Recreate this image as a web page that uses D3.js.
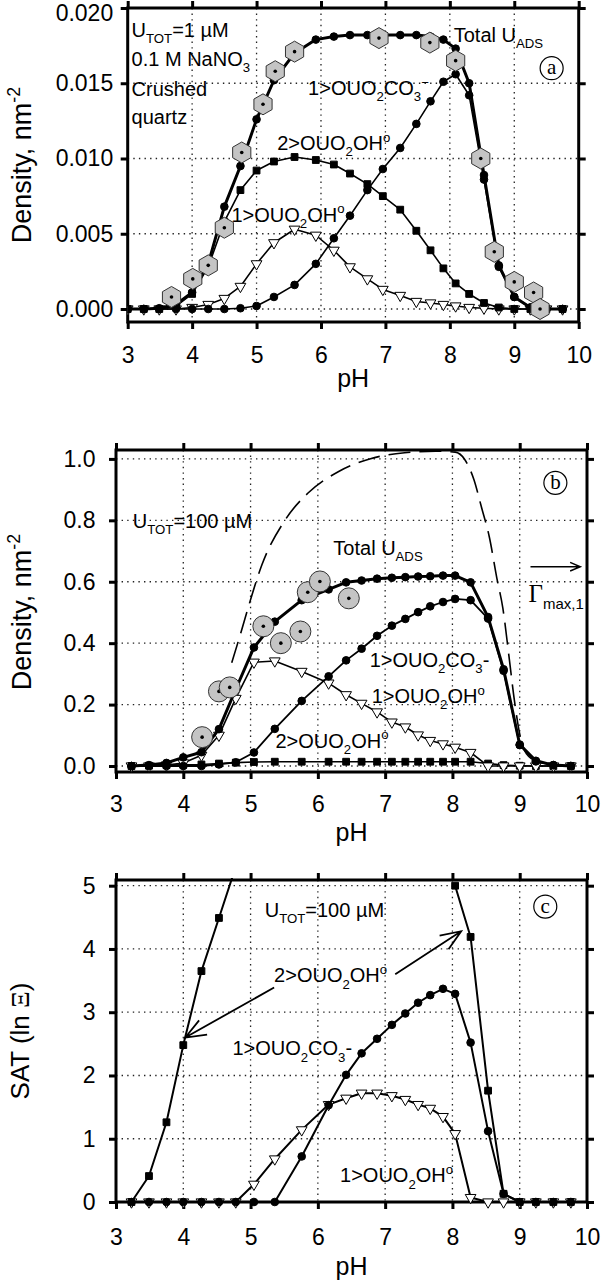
<!DOCTYPE html>
<html>
<head>
<meta charset="utf-8">
<script src="https://cdn.jsdelivr.net/npm/d3@7"></script>
<style>
  body { margin: 0; background: #fff; }
  svg { display: block; font-family: "Liberation Sans", Arial, sans-serif; }
</style>
</head>
<body>
<svg id="chart" width="603" height="1282"></svg>
<script>
// --- ticks
const xTicks = [3, 4, 5, 6, 7, 8, 9, 10];
const yTicksA = [0, 0.005, 0.01, 0.015, 0.02];
const yTicksB = [0, 0.2, 0.4, 0.6, 0.8, 1.0];
const yTicksC = [0, 1, 2, 3, 4, 5];

// --- panel a : U_TOT = 1 uM, density nm^-2
const pHA = [3.0, 3.25, 3.49, 3.75, 4.0, 4.25, 4.5, 4.75, 5.0, 5.27, 5.59, 5.92, 6.2, 6.45, 6.72, 6.96, 7.23, 7.48, 7.7, 7.9, 8.09, 8.3, 8.53, 8.76, 9.0, 9.25, 9.5, 9.75];
const totalA = [0, 0, 0.00005, 0.0003, 0.0011, 0.003, 0.0068, 0.0095, 0.0126, 0.0152, 0.017, 0.0179, 0.0181, 0.0182, 0.0182, 0.0182, 0.0182, 0.0182, 0.0181, 0.0179, 0.0173, 0.015, 0.0089, 0.0029, 0.0008, 0.0001, 0, 0];
const bidentateA = [0, 0, 0, 0.0002, 0.001, 0.0028, 0.0058, 0.0079, 0.0092, 0.0098, 0.0101, 0.0099, 0.0096, 0.009, 0.0083, 0.0075, 0.0066, 0.0052, 0.0039, 0.0027, 0.0017, 0.001, 0.0004, 0.0001, 0, 0, 0, 0];
const monoOHA = [0, 0, 0, 0, 0.0001, 0.0003, 0.0007, 0.0015, 0.003, 0.0044, 0.0053, 0.0049, 0.0039, 0.0028, 0.002, 0.0013, 0.0009, 0.0005, 0.0004, 0.0003, 0.0002, 0.0001, 0.00005, 0, 0, 0, 0, 0];
const carbonateA = [0, 0, 0, 0, 0, 0, 0, 0.00005, 0.0002, 0.0008, 0.0016, 0.003, 0.0047, 0.0062, 0.0079, 0.0093, 0.0107, 0.0123, 0.0138, 0.0151, 0.0156, 0.0142, 0.0086, 0.0028, 0.0008, 0.0001, 0, 0];
const expPhA = [3.68, 4.01, 4.25, 4.5, 4.77, 5.1, 5.29, 5.59, 6.9, 7.69, 8.09, 8.48, 8.69, 9.0, 9.3, 9.4];
const expDensA = [0.0008, 0.002, 0.0029, 0.0054, 0.0104, 0.0136, 0.0158, 0.0171, 0.018, 0.0177, 0.0165, 0.01, 0.0038, 0.0018, 0.0011, 0];

// --- panels b and c : U_TOT = 100 uM (same model pH points)
const pHBC = [3.23, 3.49, 3.75, 4.0, 4.27, 4.53, 4.78, 5.05, 5.36, 5.76, 6.16, 6.42, 6.65, 6.88, 7.1, 7.3, 7.49, 7.67, 7.86, 8.04, 8.27, 8.53, 8.76, 9.0, 9.24, 9.5, 9.76];
const totalB = [0, 0.003, 0.01, 0.028, 0.045, 0.12, 0.25, 0.386, 0.47, 0.54, 0.575, 0.598, 0.604, 0.61, 0.613, 0.615, 0.617, 0.618, 0.62, 0.62, 0.598, 0.485, 0.315, 0.07, 0.017, 0.003, 0];
const monoOHB = [0, 0, 0.003, 0.01, 0.035, 0.1, 0.22, 0.338, 0.342, 0.308, 0.27, 0.232, 0.204, 0.176, 0.143, 0.127, 0.101, 0.083, 0.072, 0.061, 0.044, 0, 0, 0, 0, 0, 0];
const carbonateB = [0, 0, 0, 0, 0, 0.005, 0.012, 0.044, 0.121, 0.212, 0.292, 0.344, 0.382, 0.424, 0.457, 0.479, 0.501, 0.52, 0.534, 0.544, 0.54, 0.48, 0.31, 0.068, 0.015, 0.003, 0];
const bidentateB = [0, 0.001, 0.003, 0.004, 0.005, 0.008, 0.011, 0.013, 0.014, 0.014, 0.014, 0.014, 0.014, 0.014, 0.014, 0.014, 0.014, 0.014, 0.014, 0.014, 0.014, 0.008, 0.003, 0.001, 0, 0, 0];
const expPhB = [4.28, 4.53, 4.69, 5.19, 5.45, 5.74, 5.85, 6.03, 6.46];
const expDensB = [0.094, 0.243, 0.256, 0.455, 0.4, 0.438, 0.566, 0.601, 0.546];
const gammaPhB = [4.72, 4.85, 4.97, 5.17, 5.51, 5.85, 6.31, 6.77, 7.29, 7.75, 8.04, 8.18, 8.32, 8.43, 8.55, 8.66, 8.75, 8.84, 8.92, 9.01, 9.1, 9.3];
const gammaB = [0.336, 0.43, 0.52, 0.656, 0.8, 0.888, 0.959, 1.0, 1.02, 1.025, 1.022, 0.999, 0.932, 0.844, 0.744, 0.612, 0.513, 0.358, 0.215, 0.094, 0.04, 0.011];

// SAT (ln Xi); null = off scale (above the frame)
const satBidentateC = [0, 0.41, 1.26, 2.48, 3.65, 4.49, 5.3, null, null, null, null, null, null, null, null, null, null, null, null, 5.0, 4.19, 1.76, 0.13, 0, 0, 0, 0];
const satCarbonateC = [0, 0, 0, 0, 0, 0, 0, 0, 0, 0.72, 1.53, 2.01, 2.35, 2.58, 2.8, 2.98, 3.15, 3.27, 3.37, 3.29, 2.52, 1.12, 0.13, 0, 0, 0, 0];
const satMonoOHC = [0, 0, 0, 0, 0, 0, 0, 0.28, 0.68, 1.14, 1.54, 1.64, 1.72, 1.72, 1.68, 1.62, 1.54, 1.48, 1.35, 1.08, 0.07, 0, 0, 0, 0, 0, 0];

const svg = d3.select("#chart");
const grey = "#c4c4c4";

// text with sub / superscripts: parts = [[text, "" | "sub" | "sup"], ...]
function richText(g, x, y, parts, size) {
  const t = g.append("text").attr("x", x).attr("y", y).style("font-size", size + "px");
  let shift = 0;
  parts.forEach(([s, mode]) => {
    const target = mode === "sub" ? 0.32 * size : mode === "sup" ? -0.42 * size : 0;
    t.append("tspan")
      .attr("dy", target - shift)
      .style("font-size", mode ? size * 0.66 + "px" : null)
      .text(s);
    shift = target;
  });
  return t;
}

function arrow(g, x1, y1, x2, y2, len, ang, w) {
  const a = Math.atan2(y2 - y1, x2 - x1);
  const p1 = [x2 - len * Math.cos(a - ang), y2 - len * Math.sin(a - ang)];
  const p2 = [x2 - len * Math.cos(a + ang), y2 - len * Math.sin(a + ang)];
  g.append("path")
    .attr("d", `M${x1},${y1}L${x2},${y2}M${p1}L${x2},${y2}L${p2}`)
    .attr("fill", "none")
    .attr("stroke", "#000")
    .attr("stroke-width", w);
}

function circledLetter(g, cx, cy, letter) {
  g.append("circle").attr("cx", cx).attr("cy", cy).attr("r", 11.5)
    .attr("fill", "#fff").attr("stroke", "#000").attr("stroke-width", 1.2);
  g.append("text").attr("x", cx).attr("y", cy + 6)
    .attr("text-anchor", "middle")
    .style("font-family", "'Liberation Serif', 'DejaVu Serif', serif")
    .style("font-size", "21px")
    .text(letter);
}

function makePanel(cfg) {
  const g = svg.append("g");
  const x = d3.scaleLinear().domain([3, 10]).range([cfg.left, cfg.right]);
  const y = d3.scaleLinear().domain(cfg.yDomain).range([cfg.bottom, cfg.top]);
  const id = "clip" + cfg.name;

  g.append("clipPath").attr("id", id)
    .append("rect")
    .attr("x", cfg.left).attr("y", cfg.top - 2)
    .attr("width", cfg.right - cfg.left).attr("height", cfg.bottom - cfg.top + 12);

  // dotted grid
  const grid = g.append("g").attr("stroke", "#222").attr("stroke-width", 1.3).attr("stroke-dasharray", "1.4,4.2");
  grid.selectAll(".gx").data(xTicks.slice(1, -1)).enter().append("line")
    .attr("x1", (d) => x(d)).attr("x2", (d) => x(d))
    .attr("y1", cfg.top).attr("y2", cfg.bottom);
  grid.selectAll(".gy").data(cfg.yTicks).enter().append("line")
    .attr("x1", cfg.left).attr("x2", cfg.right)
    .attr("y1", (d) => y(d)).attr("y2", (d) => y(d));

  // ticks on all four sides, outward
  const styleAxis = (sel) => {
    sel.select(".domain").remove();
    sel.selectAll(".tick line").attr("stroke", "#000").attr("stroke-width", 3);
    sel.selectAll(".tick text").attr("fill", "#000").style("font-size", "23px").style("font-family", "'Liberation Sans', Arial, sans-serif");
  };
  const yAxis = g.append("g").attr("transform", `translate(${cfg.left},0)`)
    .call(d3.axisLeft(y).tickValues(cfg.yTicks).tickSize(7).tickPadding(cfg.yPad).tickFormat(cfg.yFormat))
    .call(styleAxis);
  // keep the top label inside the picture
  yAxis.selectAll(".tick text").filter((d) => y(d) < 12).attr("y", 5);
  g.append("g").attr("transform", `translate(${cfg.right},0)`)
    .call(d3.axisRight(y).tickValues(cfg.yTicks).tickSize(7).tickFormat(""))
    .call(styleAxis);
  g.append("g").attr("transform", `translate(0,${cfg.top})`)
    .call(d3.axisTop(x).tickValues(xTicks).tickSize(7).tickFormat(""))
    .call(styleAxis);
  g.append("g").attr("transform", `translate(0,${cfg.bottom})`)
    .call(d3.axisBottom(x).tickValues(xTicks).tickSize(7).tickPadding(cfg.xPad).tickFormat(d3.format("d")))
    .call(styleAxis);

  // frame
  g.append("rect")
    .attr("x", cfg.left).attr("y", cfg.top)
    .attr("width", cfg.right - cfg.left).attr("height", cfg.bottom - cfg.top)
    .attr("fill", "none").attr("stroke", "#000").attr("stroke-width", 3);

  // axis title
  g.append("text")
    .attr("x", (cfg.left + cfg.right) / 2).attr("y", cfg.xLabelY)
    .attr("text-anchor", "middle").style("font-size", "25px")
    .text("pH");

  const plot = g.append("g").attr("clip-path", `url(#${id})`);
  return { g, plot, x, y };
}

const symbols = {
  circle: { type: d3.symbolCircle, size: 46, fill: "#000", rot: 0 },
  square: { type: d3.symbolSquare, size: 46, fill: "#000", rot: 0 },
  triangle: { type: d3.symbolTriangle, size: 50, fill: "#fff", rot: 180 },
};

function drawSeries(p, xs, ys, opt) {
  const pts = xs.map((v, i) => [v, ys[i]]);
  const line = d3.line()
    .defined((d) => d[1] != null)
    .x((d) => p.x(d[0]))
    .y((d) => p.y(d[1]))
    .curve(opt.curve || d3.curveLinear);
  p.plot.append("path")
    .datum(pts)
    .attr("d", line)
    .attr("fill", "none")
    .attr("stroke", "#000")
    .attr("stroke-width", opt.width)
    .attr("stroke-dasharray", opt.dash || null)
    .attr("stroke-linejoin", "round");
  if (!opt.symbol) return;
  const s = symbols[opt.symbol];
  p.plot.selectAll(null)
    .data(pts.filter((d) => d[1] != null))
    .enter()
    .append("path")
    .attr("d", d3.symbol().type(s.type).size(s.size))
    .attr("transform", (d) => `translate(${p.x(d[0])},${p.y(d[1])}) rotate(${s.rot})`)
    .attr("fill", s.fill)
    .attr("stroke", "#000")
    .attr("stroke-width", 1);
}

function drawExperiment(p, xs, ys, shape) {
  const r = 10.5;
  const hex = d3.range(6).map((k) => {
    const a = (Math.PI / 3) * k - Math.PI / 2;
    return [r * Math.cos(a), r * Math.sin(a)];
  });
  const pts = p.plot.selectAll(null)
    .data(xs.map((v, i) => [v, ys[i]]))
    .enter()
    .append("g")
    .attr("transform", (d) => `translate(${p.x(d[0])},${p.y(d[1])})`);
  if (shape === "hex") {
    pts.append("path").attr("d", "M" + hex.join("L") + "Z");
  } else {
    pts.append("circle").attr("r", r);
  }
  pts.selectAll("path,circle").attr("fill", grey).attr("stroke", "#333").attr("stroke-width", 1);
  pts.append("circle").attr("r", 1.8).attr("fill", "#000");
}

function yTitle(g, xPos, yPos, parts, size) {
  return richText(g, 0, 0, parts, size)
    .attr("text-anchor", "middle")
    .attr("transform", `translate(${xPos},${yPos}) rotate(-90)`);
}

// ================= panel a
const pa = makePanel({
  name: "a", left: 127.7, right: 578.7, top: 8, bottom: 322,
  yDomain: [-0.000864, 0.02], yTicks: yTicksA, yFormat: d3.format(".3f"),
  yPad: 7.5, xPad: 18, xLabelY: 387,
});
drawSeries(pa, pHA, monoOHA, { width: 1.6, symbol: "triangle" });
drawSeries(pa, pHA, bidentateA, { width: 1.6, symbol: "square" });
drawSeries(pa, pHA, carbonateA, { width: 1.6, symbol: "circle" });
drawSeries(pa, pHA, totalA, { width: 3, symbol: "circle" });
drawExperiment(pa, expPhA, expDensA, "hex");

yTitle(pa.g, 31, 165, [["Density, nm", ""], ["-2", "sup"]], 27);
richText(pa.g, pa.x(3.06), pa.y(0.01807), [["U", ""], ["TOT", "sub"], ["=1 µM", ""]], 20);
richText(pa.g, pa.x(3.06), pa.y(0.01615), [["0.1 M NaNO", ""], ["3", "sub"]], 20);
richText(pa.g, pa.x(3.06), pa.y(0.01415), [["Crushed", ""]], 20);
richText(pa.g, pa.x(3.06), pa.y(0.01229), [["quartz", ""]], 20);
richText(pa.g, pa.x(8.06), pa.y(0.01776), [["Total U", ""], ["ADS", "sub"]], 20);
richText(pa.g, pa.x(5.8), pa.y(0.01422), [["1>OUO", ""], ["2", "sub"], ["CO", ""], ["3", "sub"], ["−", "sup"]], 20);
richText(pa.g, pa.x(5.32), pa.y(0.01056), [["2>OUO", ""], ["2", "sub"], ["OH", ""], ["o", "sup"]], 20);
richText(pa.g, pa.x(4.61), pa.y(0.0058), [["1>OUO", ""], ["2", "sub"], ["OH", ""], ["o", "sup"]], 20);
circledLetter(pa.g, pa.x(9.58), pa.y(0.016), "a");

// ================= panel b
const pb = makePanel({
  name: "b", left: 116, right: 587, top: 450, bottom: 772,
  yDomain: [-0.0195, 1.029], yTicks: yTicksB, yFormat: d3.format(".1f"),
  yPad: 13.5, xPad: 17, xLabelY: 841,
});
drawSeries(pb, gammaPhB, gammaB, { width: 1.6, dash: "22,9", curve: d3.curveMonotoneX });
drawSeries(pb, pHBC, bidentateB, { width: 1.6, symbol: "square" });
drawSeries(pb, pHBC, monoOHB, { width: 1.6, symbol: "triangle" });
drawSeries(pb, pHBC, carbonateB, { width: 1.8, symbol: "circle" });
drawSeries(pb, pHBC, totalB, { width: 3, symbol: "circle" });
drawExperiment(pb, expPhB, expDensB, "circle");

yTitle(pb.g, 31, 612, [["Density, nm", ""], ["-2", "sup"]], 27);
richText(pb.g, pb.x(3.25), pb.y(0.775), [["U", ""], ["TOT", "sub"], ["=100 µM", ""]], 20);
richText(pb.g, pb.x(6.23), pb.y(0.687), [["Total U", ""], ["ADS", "sub"]], 20);
richText(pb.g, pb.x(6.77), pb.y(0.323), [["1>OUO", ""], ["2", "sub"], ["CO", ""], ["3", "sub"], ["-", ""]], 20);
richText(pb.g, pb.x(6.8), pb.y(0.205), [["1>OUO", ""], ["2", "sub"], ["OH", ""], ["o", "sup"]], 20);
richText(pb.g, pb.x(5.37), pb.y(0.059), [["2>OUO", ""], ["2", "sub"], ["OH", ""], ["o", "sup"]], 20);
circledLetter(pb.g, pb.x(9.53), pb.y(0.922), "b");
arrow(pb.g, pb.x(9.16), pb.y(0.649), pb.x(9.9), pb.y(0.649), 11, 0.4, 1.5);
const gam = pb.g.append("text").attr("x", pb.x(9.13)).attr("y", pb.y(0.534));
gam.append("tspan").style("font-family", "'Liberation Serif', serif").style("font-size", "25px").text("Γ");
gam.append("tspan").attr("dy", 7).style("font-size", "15px").text("max,1");

// ================= panel c
const pc = makePanel({
  name: "c", left: 116, right: 587, top: 880, bottom: 1202,
  yDomain: [0, 5.09], yTicks: yTicksC, yFormat: d3.format("d"),
  yPad: 13.5, xPad: 20, xLabelY: 1275,
});
drawSeries(pc, pHBC, satBidentateC, { width: 2, symbol: "square" });
drawSeries(pc, pHBC, satMonoOHC, { width: 2, symbol: "triangle" });
drawSeries(pc, pHBC, satCarbonateC, { width: 2, symbol: "circle" });

const sat = pc.g.append("text")
  .attr("text-anchor", "middle")
  .attr("transform", "translate(29,1041) rotate(-90)")
  .style("font-size", "26px");
sat.append("tspan").text("SAT (ln ");
sat.append("tspan").style("font-family", "'Liberation Serif', serif").text("Ξ");
sat.append("tspan").text(")");

richText(pc.g, pc.x(5.21), pc.y(4.506), [["U", ""], ["TOT", "sub"], ["=100 µM", ""]], 20);
richText(pc.g, pc.x(5.35), pc.y(3.475), [["2>OUO", ""], ["2", "sub"], ["OH", ""], ["o", "sup"]], 20);
richText(pc.g, pc.x(4.73), pc.y(2.32), [["1>OUO", ""], ["2", "sub"], ["CO", ""], ["3", "sub"], ["-", ""]], 20);
richText(pc.g, pc.x(6.33), pc.y(0.31), [["1>OUO", ""], ["2", "sub"], ["OH", ""], ["o", "sup"]], 20);
circledLetter(pc.g, pc.x(9.38), pc.y(4.67), "c");
arrow(pc.g, pc.x(5.35), pc.y(3.39), pc.x(4.03), pc.y(2.6), 22, 0.38, 1.8);
arrow(pc.g, pc.x(7.15), pc.y(3.6), pc.x(8.13), pc.y(4.28), 22, 0.38, 1.8);
</script>
</body>
</html>
